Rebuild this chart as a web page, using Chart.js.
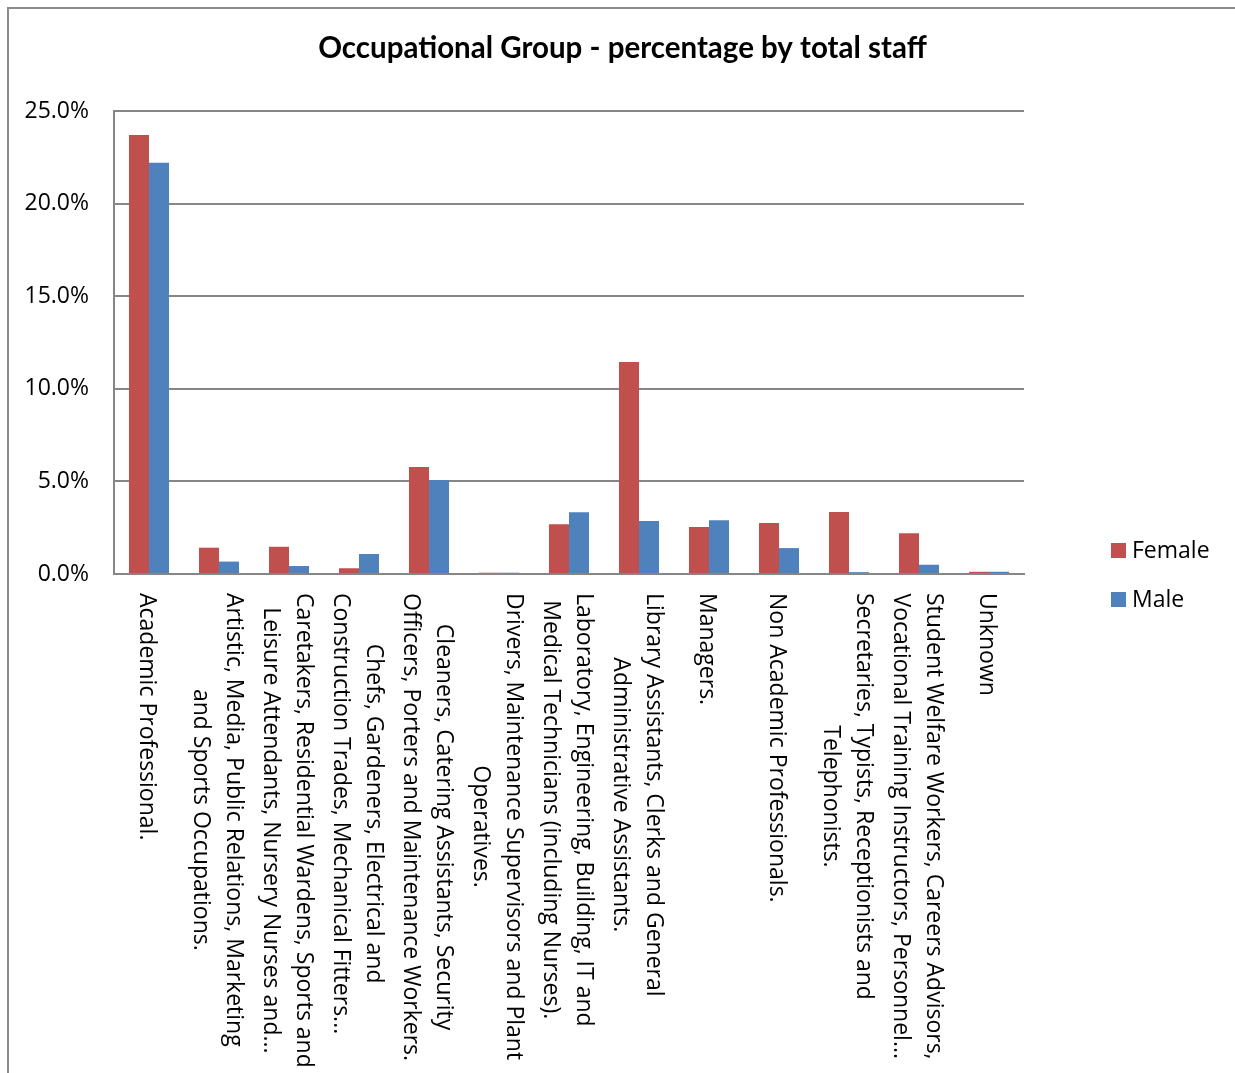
<!DOCTYPE html>
<html>
<head>
<meta charset="utf-8">
<title>Occupational Group - percentage by total staff</title>
<script src="https://cdn.jsdelivr.net/npm/chart.js@4/dist/chart.umd.min.js"></script>
<style>
  html, body { margin: 0; padding: 0; background: #fff; overflow: hidden; }
  #frame {
    position: absolute; left: 7px; top: 7px;
    width: 1300px; height: 1200px;
    border: 2px solid #8c8c8c;
  }
  #chart { position: absolute; left: 0; top: 0; }
</style>
</head>
<body>
<div id="frame"></div>
<canvas id="chart" width="1245" height="1073"></canvas>
<script>
// occupational groups, one array of lines per label
const categories = [
  ["Academic Professional."],
  ["Artistic, Media, Public Relations, Marketing", "and Sports Occupations."],
  ["Caretakers, Residential Wardens, Sports and", "Leisure Attendants, Nursery Nurses and..."],
  ["Chefs, Gardeners, Electrical and", "Construction Trades, Mechanical Fitters..."],
  ["Cleaners, Catering Assistants, Security", "Officers, Porters and Maintenance Workers."],
  ["Drivers, Maintenance Supervisors and Plant", "Operatives."],
  ["Laboratory, Engineering, Building, IT and", "Medical Technicians (including Nurses)."],
  ["Library Assistants, Clerks and General", "Administrative Assistants."],
  ["Managers."],
  ["Non Academic Professionals."],
  ["Secretaries, Typists, Receptionists and", "Telephonists."],
  ["Student Welfare Workers, Careers Advisors,", "Vocational Training Instructors, Personnel..."],
  ["Unknown"]
];

// % of total staff
const female = [23.7, 1.42, 1.47, 0.31, 5.78, 0.07, 2.68, 11.45, 2.54, 2.75, 3.35, 2.2, 0.12];
const male = [22.2, 0.67, 0.43, 1.08, 5.08, 0.07, 3.33, 2.86, 2.9, 1.4, 0.1, 0.5, 0.12];

const yTicks = [0, 5, 10, 15, 20, 25];

const chartTitle = "Occupational Group - percentage by total staff";
const gridGrey = "#868686";
const labelFont = '"Open Sans", sans-serif';

// category labels rotated clockwise, read top to bottom
const verticalLabels = {
  id: "verticalLabels",
  afterDraw(chart) {
    const { ctx, scales: { x }, chartArea } = chart;
    const pitch = 33;
    ctx.save();
    ctx.font = "23px " + labelFont;
    ctx.fillStyle = "#000";
    ctx.textAlign = "center";
    ctx.textBaseline = "middle";
    categories.forEach((lines, i) => {
      const cx = x.getPixelForValue(i) - 2;
      const top = chartArea.bottom + 19;
      const widest = Math.max(...lines.map(l => ctx.measureText(l).width));
      ctx.save();
      ctx.translate(cx, top);
      ctx.rotate(Math.PI / 2);
      lines.forEach((line, k) => {
        const off = (k - (lines.length - 1) / 2) * pitch;
        ctx.fillText(line, widest / 2, off);
      });
      ctx.restore();
    });
    ctx.restore();
  }
};

// title centred on the whole frame, legend to the right of the plot
const frameText = {
  id: "frameText",
  afterDraw(chart) {
    const { ctx, chartArea } = chart;
    ctx.save();
    ctx.fillStyle = "#000";
    ctx.textAlign = "center";
    ctx.textBaseline = "middle";
    ctx.font = "bold 29.5px Lato, sans-serif";
    ctx.fillText(chartTitle, chart.width / 2, 48);

    const left = chartArea.right + 87;
    const firstY = 550;
    const gap = 49;
    ctx.font = "23px " + labelFont;
    ctx.textAlign = "left";
    chart.data.datasets.forEach((ds, i) => {
      const y = firstY + i * gap;
      ctx.fillStyle = ds.backgroundColor;
      ctx.fillRect(left, y - 7, 15, 15);
      ctx.fillStyle = "#000";
      ctx.fillText(ds.label, left + 21, y + 1);
    });
    ctx.restore();
  }
};

new Chart(document.getElementById("chart"), {
  type: "bar",
  data: {
    labels: categories.map(c => c.join(" ")),
    datasets: [
      { label: "Female", data: female, backgroundColor: "#C0504D" },
      { label: "Male", data: male, backgroundColor: "#4F81BD" }
    ]
  },
  options: {
    responsive: false,
    animation: false,
    events: [],
    datasets: {
      bar: { categoryPercentage: 0.572, barPercentage: 1.0 }
    },
    layout: { padding: { left: 0, right: 221, top: 111, bottom: 0 } },
    scales: {
      x: {
        grid: { display: false },
        border: { display: true, color: gridGrey, width: 2 },
        ticks: { display: false },
        afterFit(s) { s.height = 499; }
      },
      y: {
        min: 0,
        max: 25,
        afterBuildTicks(s) { s.ticks = yTicks.map(v => ({ value: v })); },
        grid: { color: gridGrey, lineWidth: 2, drawTicks: false },
        border: { display: true, color: gridGrey, width: 2 },
        ticks: {
          padding: 25,
          color: "#000",
          font: { family: labelFont, size: 23 },
          callback: v => v.toFixed(1) + "%"
        },
        afterFit(s) { s.width = 114; }
      }
    },
    plugins: {
      legend: { display: false },
      tooltip: { enabled: false },
      title: { display: false }
    }
  },
  plugins: [verticalLabels, frameText]
});
</script>
</body>
</html>
